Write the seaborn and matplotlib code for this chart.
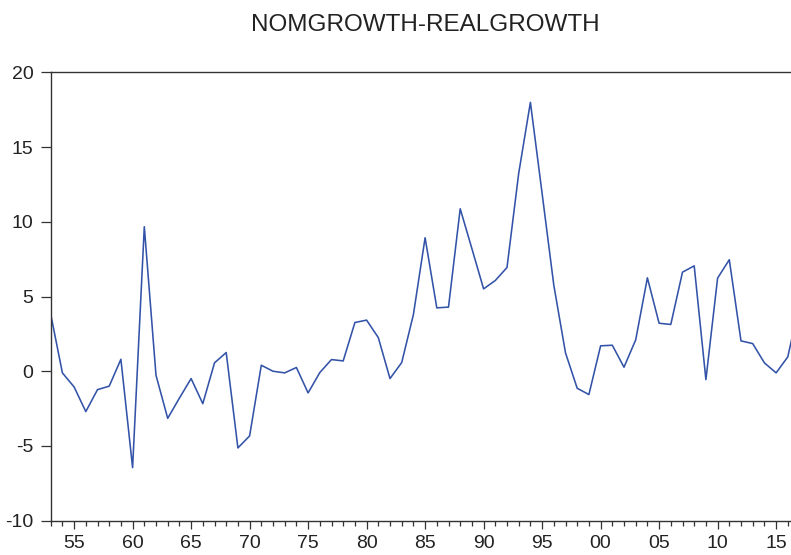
import numpy as np
import pandas as pd
import matplotlib
matplotlib.use('Agg')
import matplotlib.pyplot as plt
import seaborn as sns
from matplotlib.ticker import MultipleLocator

# Annual series, 1953-2017 (last point is cut off at the right edge in the source)
years = list(range(1953, 2018))
values = [3.82, -0.11, -1.05, -2.70, -1.23, -1.00, 0.80, -6.45, 9.67, -0.27,
          -3.15, -1.80, -0.49, -2.17, 0.56, 1.25, -5.13, -4.33, 0.40, 0.00,
          -0.11, 0.25, -1.45, -0.09, 0.78, 0.69, 3.26, 3.42, 2.25, -0.49,
          0.58, 3.79, 8.93, 4.24, 4.29, 10.87, 8.20, 5.51, 6.07, 6.94,
          13.24, 17.99, 11.90, 5.76, 1.23, -1.14, -1.56, 1.70, 1.74, 0.27,
          2.10, 6.25, 3.21, 3.13, 6.63, 7.05, -0.56, 6.23, 7.46, 2.03,
          1.85, 0.56, -0.11, 0.96, 4.50]

x_ticks = list(range(1955, 2016, 5))
x_ticklabels = ['55', '60', '65', '70', '75', '80', '85', '90', '95',
                '00', '05', '10', '15']
y_ticks = [-10, -5, 0, 5, 10, 15, 20]

df = pd.DataFrame({'year': years, 'value': values})

sns.set_style('ticks')
plt.rcParams['font.family'] = ['Liberation Sans', 'DejaVu Sans']
plt.rcParams['axes.unicode_minus'] = False

dark = '#333333'
fig = plt.figure(figsize=(7.91, 5.55), dpi=100)
# axes runs slightly past the right edge of the picture, as in the source
ax = fig.add_axes([50.7 / 791, 34.3 / 555, 748.8 / 791, 448.4 / 555])

sns.lineplot(data=df, x='year', y='value', ax=ax, color='#3353a8', linewidth=1.15)

ax.set_xlim(1953, 2017)
ax.set_ylim(-10, 20)
ax.set_xticks(x_ticks)
ax.set_xticklabels(x_ticklabels)
ax.xaxis.set_minor_locator(MultipleLocator(1))
ax.set_yticks(y_ticks)
ax.set_xlabel(None)
ax.set_ylabel(None)

for s in ax.spines.values():
    s.set_visible(True)
    s.set_color(dark)
    s.set_linewidth(1.0)

ax.tick_params(axis='y', which='major', direction='out', length=7.5, width=0.9,
               color=dark, labelcolor='#222222', labelsize=14, pad=5)
ax.tick_params(axis='x', which='major', direction='out', length=6, width=0.9,
               color=dark, labelcolor='#222222', labelsize=14, pad=4)
ax.tick_params(axis='x', which='minor', direction='out', length=3.5, width=0.9,
               color=dark)

ax.set_title('NOMGROWTH-REALGROWTH', fontsize=17.5, color='#222222', pad=30)

plt.savefig('out.png', dpi=100)
